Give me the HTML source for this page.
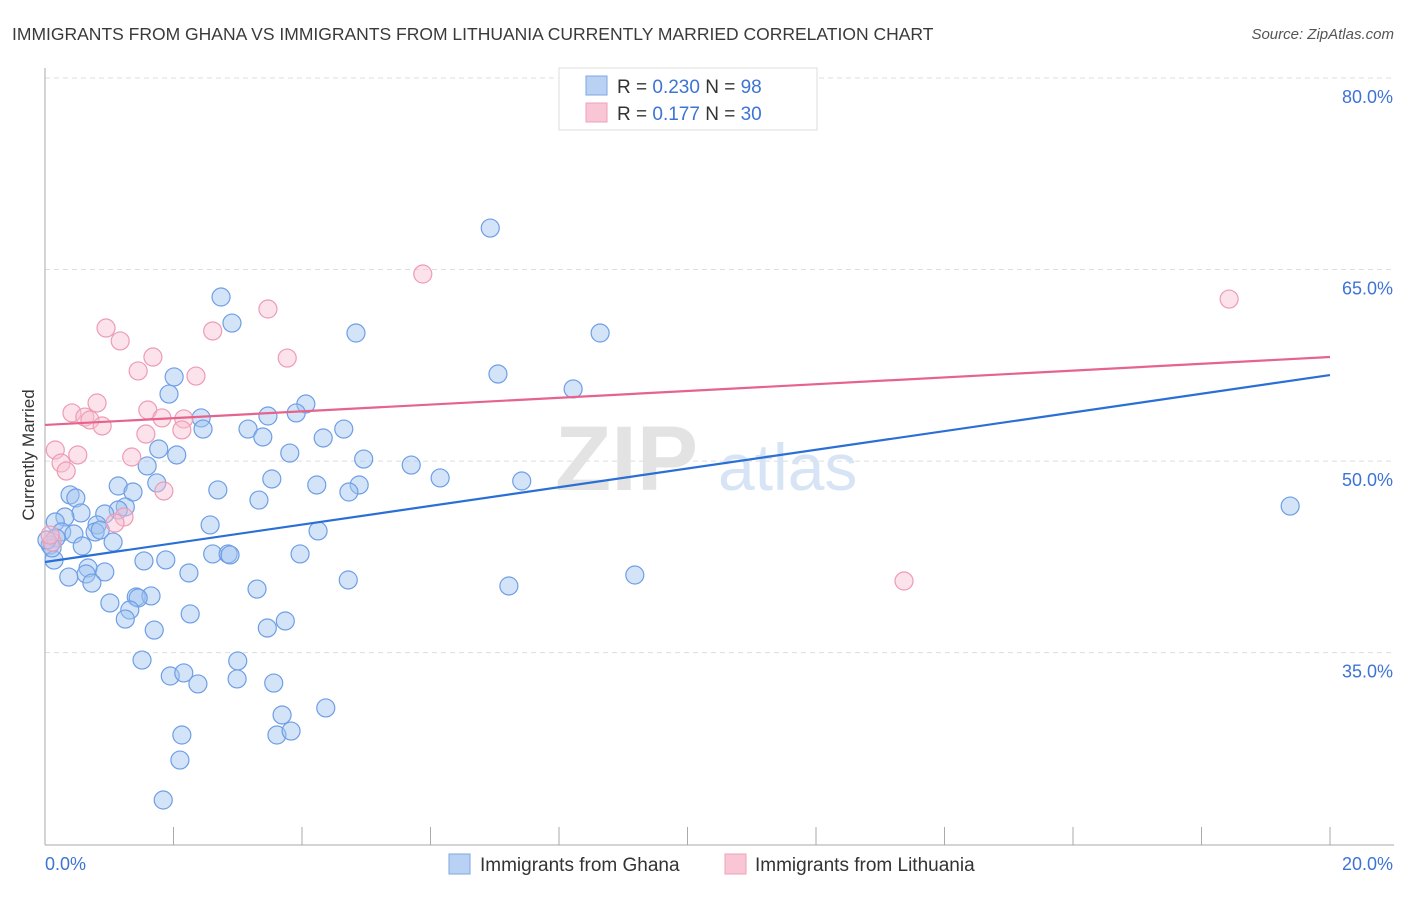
<!DOCTYPE html>
<html><head><meta charset="utf-8"><style>
body{margin:0;background:#fff;font-family:"Liberation Sans",sans-serif;}
svg text{font-family:"Liberation Sans",sans-serif;}
</style></head><body>
<svg width="1406" height="892" xmlns="http://www.w3.org/2000/svg" id="chart">
<text x="12" y="40" font-size="17.5" fill="#3a3a3a">IMMIGRANTS FROM GHANA VS IMMIGRANTS FROM LITHUANIA CURRENTLY MARRIED CORRELATION CHART</text>
<text x="1394" y="39" font-size="15" fill="#555" text-anchor="end" font-style="italic">Source: ZipAtlas.com</text>
<g id="grid"></g>
<g id="axes"></g>
<text x="555" y="490" font-size="92" fill="#e3e3e3" font-family="Liberation Serif" font-weight="bold">ZIP</text>
<text x="718" y="490" font-size="66" fill="#d7e4f5">atlas</text>
<g id="points"></g>
<g id="lines"></g>
<text transform="translate(34,455) rotate(-90)" font-size="17" fill="#333" text-anchor="middle">Currently Married</text>
<g>
<rect x="559" y="68" width="258" height="62" fill="#fff" stroke="#ddd"/>
<rect x="586" y="76" width="21" height="19" fill="#b9d1f3" stroke="#7ea7e6"/>
<rect x="586" y="103" width="21" height="19" fill="#f9c6d5" stroke="#eea0b8"/>
<text x="617" y="93" font-size="19" fill="#333">R = <tspan fill="#3d74d4">0.230</tspan>   N = <tspan fill="#3d74d4"> 98</tspan></text>
<text x="617" y="120" font-size="19" fill="#333">R =  <tspan fill="#3d74d4">0.177</tspan>   N = <tspan fill="#3d74d4">30</tspan></text>
</g>
<g>
<rect x="449" y="854" width="21" height="20" fill="#b9d1f3" stroke="#7ea7e6"/>
<text x="480" y="871" font-size="19" fill="#333">Immigrants from Ghana</text>
<rect x="725" y="854" width="21" height="20" fill="#f9c6d5" stroke="#eea0b8"/>
<text x="755" y="871" font-size="19" fill="#333">Immigrants from Lithuania</text>
</g>
</svg>
<script>
const blueX=[6.93,2.74,2.91,4.84,8.64,7.05,2.01,8.22,1.93,4.06,3.91,2.43,3.47,2.46,3.16,3.39,4.65,4.33,1.77,3.81,2.05,1.59,4.96,5.70,6.15,7.42,3.53,4.23,4.89,4.73,1.74,1.14,1.37,2.69,3.33,0.39,0.48,1.25,1.14,0.56,0.93,0.31,0.16,0.81,0.78,0.86,0.26,0.45,0.17,0.58,1.06,2.57,4.25,0.08,0.14,2.61,2.85,2.88,3.97,1.54,1.88,0.67,0.64,0.93,2.24,0.37,0.73,4.72,7.22,9.18,19.38,3.30,1.01,1.42,1.65,1.45,1.32,1.25,2.26,3.74,3.46,1.70,1.51,3.00,1.95,2.16,2.38,2.99,3.56,3.69,4.37,2.13,3.61,3.83,2.10,1.84,0.11,0.03];
const blueY=[68.25,62.85,60.81,60.03,60.03,56.82,56.59,55.65,55.25,54.47,53.77,53.38,53.53,52.51,52.51,51.89,52.51,51.81,50.95,50.63,50.48,49.62,50.16,49.69,48.68,48.44,48.60,48.13,48.13,47.58,48.29,48.05,47.58,47.74,46.95,47.35,47.11,46.41,46.17,45.94,45.86,45.62,45.23,45.00,44.45,44.60,44.45,44.29,43.98,43.35,43.66,45.00,44.53,43.43,42.25,42.73,42.73,42.65,42.73,42.18,42.26,41.63,41.16,41.32,41.24,40.92,40.45,40.69,40.22,41.08,46.48,39.98,38.89,39.36,39.44,39.28,38.34,37.63,38.03,37.48,36.93,36.77,34.42,34.35,33.17,33.41,32.55,32.94,32.62,30.12,30.67,28.55,28.55,28.86,26.59,23.46,43.20,43.82];
const pinkX=[5.88,18.43,3.47,0.95,2.61,1.17,1.68,3.77,1.45,2.35,0.81,0.42,0.62,1.60,1.82,2.16,0.70,0.89,2.13,1.57,0.16,0.51,1.35,0.25,0.33,1.85,1.23,1.09,13.37,0.11,0.08];
const pinkY=[64.65,62.69,61.91,60.42,60.19,59.41,58.15,58.07,57.06,56.66,54.55,53.77,53.45,54.00,53.38,53.30,53.22,52.75,52.44,52.12,50.87,50.48,50.32,49.85,49.22,47.66,45.62,45.15,40.61,43.66,44.21];
const blueTrend=[42.1,56.74];
const pinkTrend=[52.83,58.15];
const yTicks=[35,50,65,80];
const xTickLabels=["0.0%","20.0%"];
const NS="http://www.w3.org/2000/svg";
const xs=v=>45+v*64.25;
const ys=v=>78+(80-v)*12.77;
function mk(tag,attrs,parent){const e=document.createElementNS(NS,tag);for(const k in attrs)e.setAttribute(k,attrs[k]);parent.appendChild(e);return e;}
const grid=document.getElementById('grid'),axes=document.getElementById('axes'),pts=document.getElementById('points'),lines=document.getElementById('lines');
yTicks.forEach(t=>{
 const l=mk('line',{x1:45,x2:1394,y1:ys(t),y2:ys(t),stroke:'#ddd','stroke-dasharray':'5,4'},grid);
 
 
 const tx=mk('text',{x:1393,y:ys(t)+25,'font-size':18,fill:'#3d74d4','text-anchor':'end'},axes);
 tx.textContent=t.toFixed(1)+'%';
 
 
});
mk('line',{x1:45,x2:45,y1:68,y2:845,stroke:'#aaa'},axes);
mk('line',{x1:45,x2:1394,y1:845,y2:845,stroke:'#aaa'},axes);
for(let i=1;i<=10;i++){mk('line',{x1:xs(i*2),x2:xs(i*2),y1:827,y2:845,stroke:'#aaa'},axes);}
const x0=mk('text',{x:45,y:870,'font-size':18,fill:'#3d74d4'},axes);x0.textContent=xTickLabels[0];


const x1=mk('text',{x:1393,y:870,'font-size':18,fill:'#3d74d4','text-anchor':'end'},axes);x1.textContent=xTickLabels[1];


blueX.forEach((v,i)=>{const c=mk('circle',{cx:xs(v),cy:ys(blueY[i]),r:9,fill:'rgba(160,195,240,0.45)',stroke:'#6e9ee6','stroke-width':1.2},pts);
 
 });
pinkX.forEach((v,i)=>{const c=mk('circle',{cx:xs(v),cy:ys(pinkY[i]),r:9,fill:'rgba(248,190,208,0.45)',stroke:'#ee9bb5','stroke-width':1.2},pts);
 
 });
const bl=mk('line',{x1:xs(0),y1:ys(blueTrend[0]),x2:xs(20),y2:ys(blueTrend[1]),stroke:'#2a6fd6','stroke-width':2.2},lines);


const pl=mk('line',{x1:xs(0),y1:ys(pinkTrend[0]),x2:xs(20),y2:ys(pinkTrend[1]),stroke:'#e5638d','stroke-width':2.2},lines);


</script>
</body></html>
